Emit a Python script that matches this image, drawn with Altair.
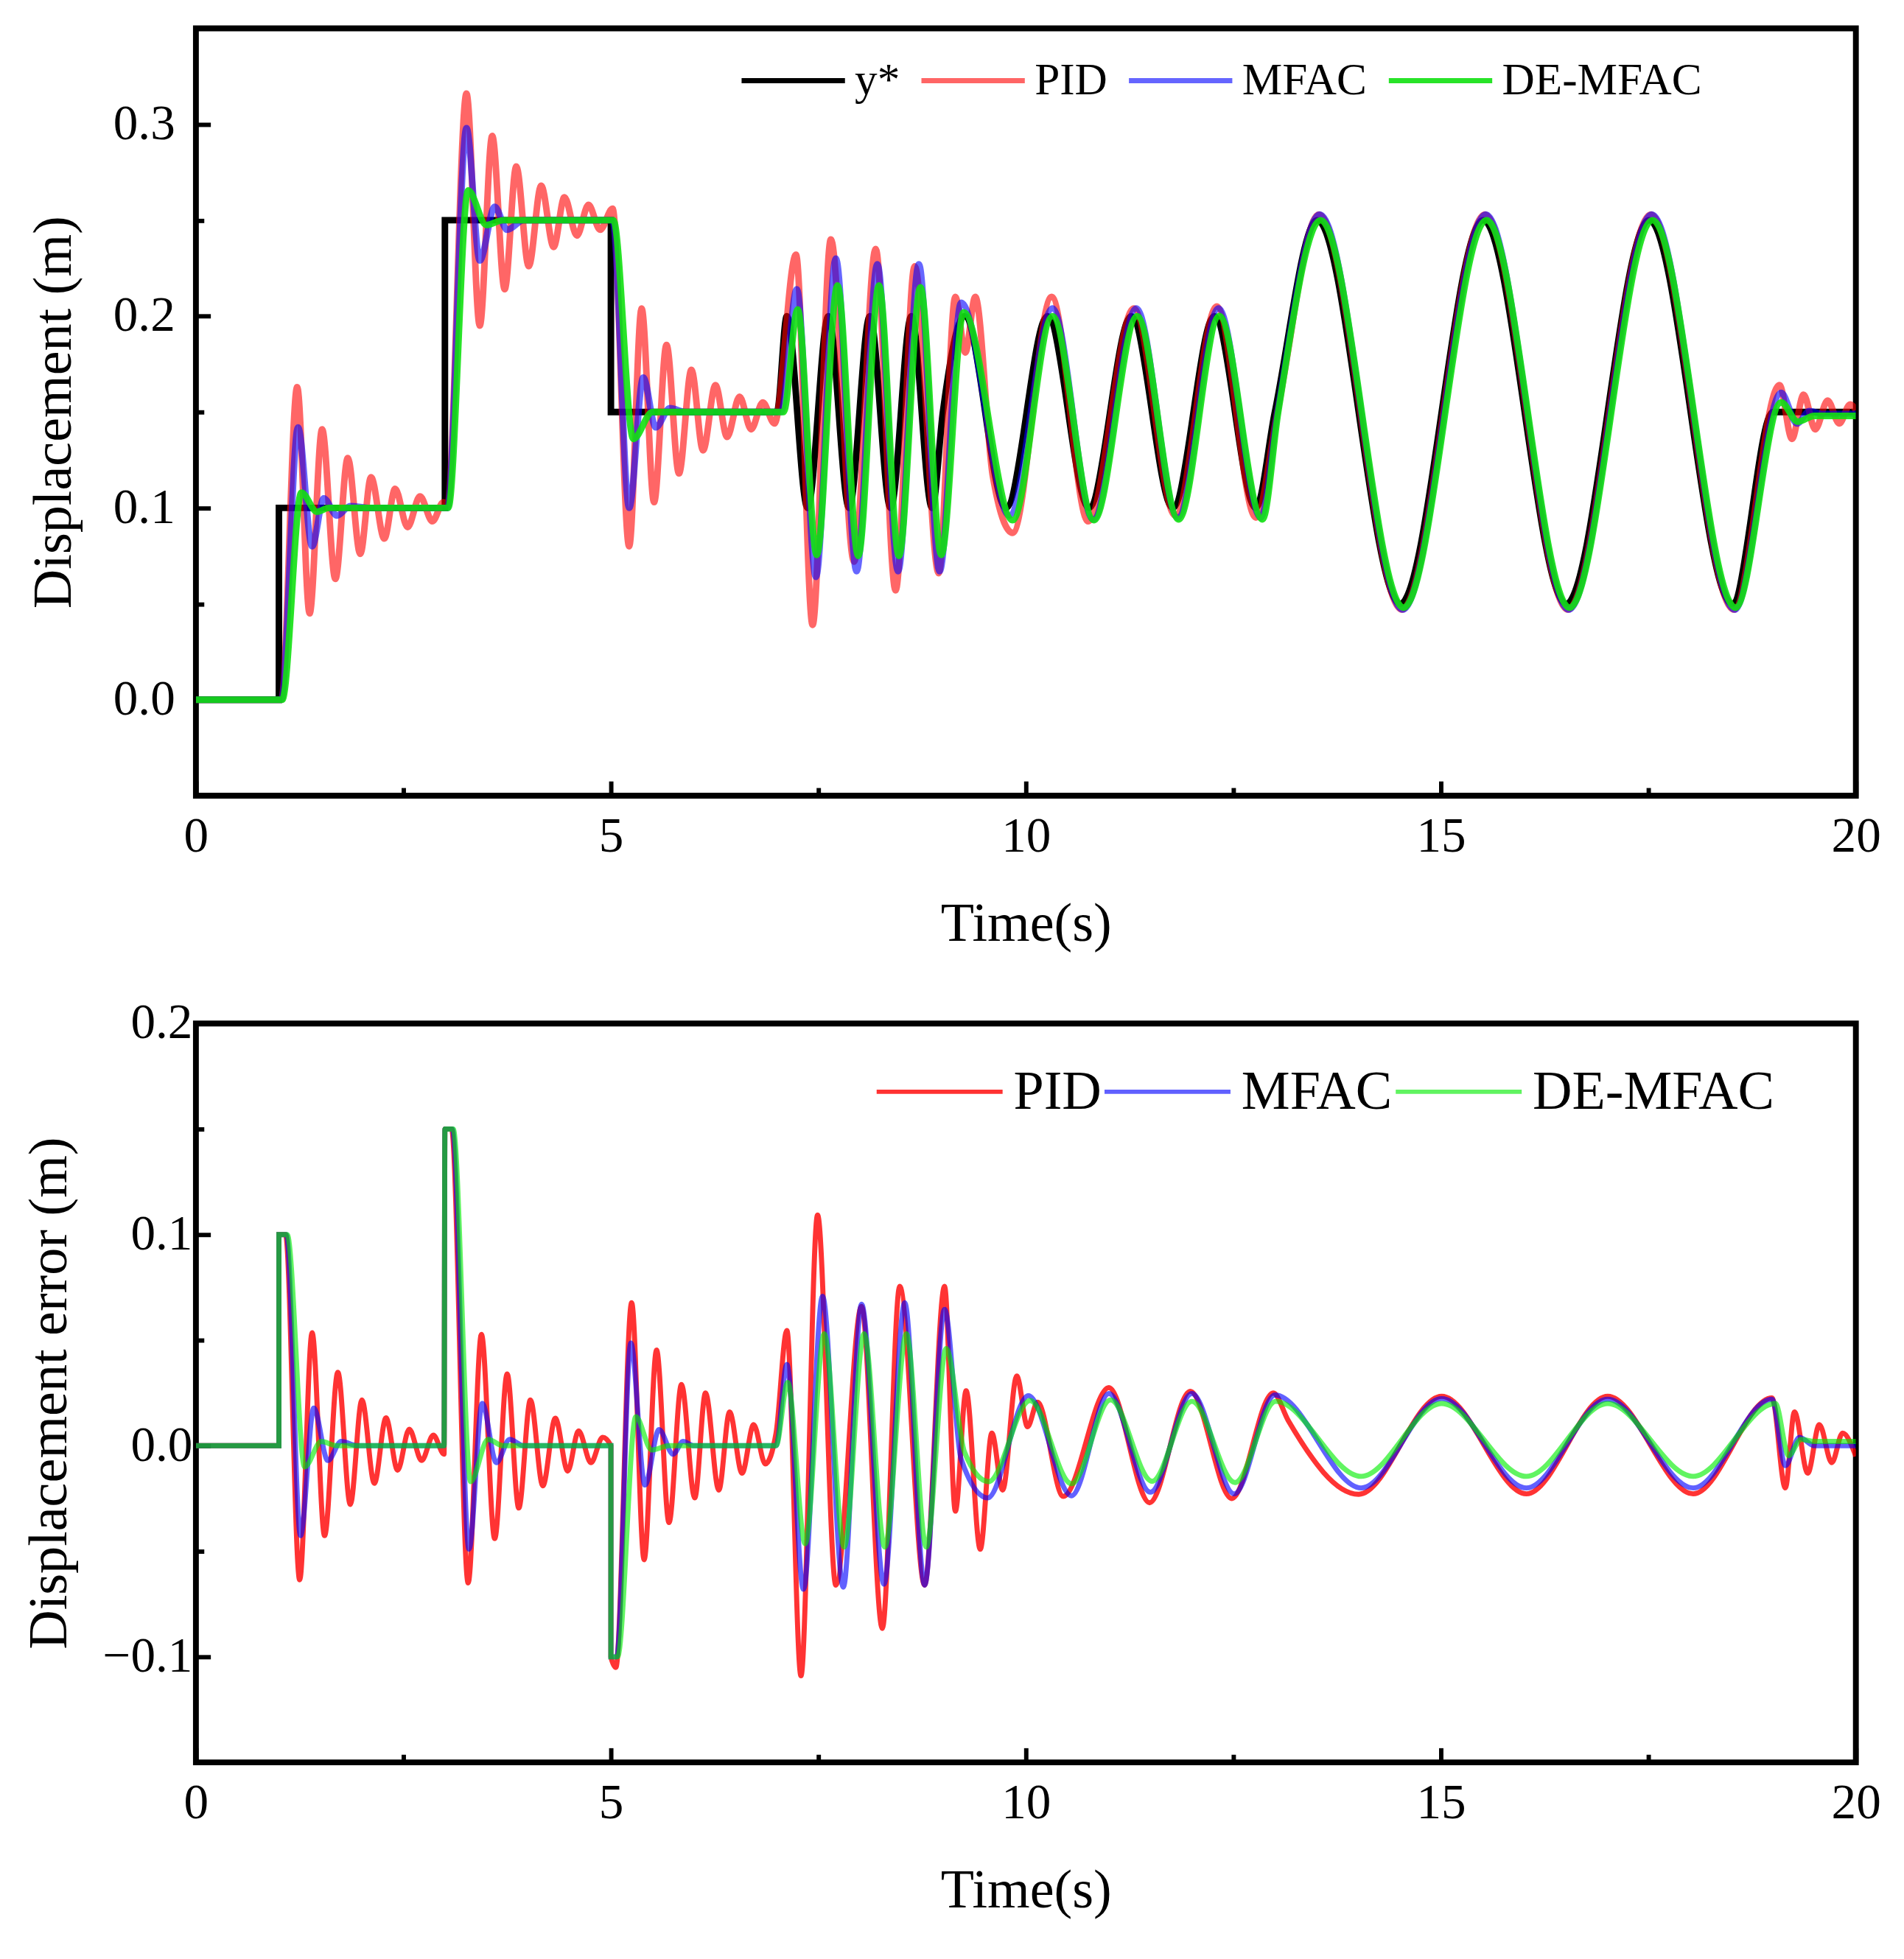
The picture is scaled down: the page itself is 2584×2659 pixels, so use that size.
import altair as alt
import pandas as pd

FONT = "Liberation Serif"

# ---- top panel: displacement (m) ----
REF_T = [0, 1, 1, 3, 3, 5, 5, 7, 7.12, 7.37, 7.62, 7.87, 8.12, 8.37, 8.62, 8.87,
         9.0, 9.26, 9.76, 10.26, 10.76, 11.27, 11.77, 12.27, 12.77, 13.0,
         13.51, 14.51, 15.51, 16.51, 17.51, 18.51, 19.0, 20]
REF_Y = [0, 0, 0.1, 0.1, 0.25, 0.25, 0.15, 0.15, 0.2, 0.1, 0.2, 0.1, 0.2, 0.1, 0.2, 0.1,
         0.15, 0.2, 0.1, 0.2, 0.1, 0.2, 0.1, 0.2, 0.1, 0.15,
         0.25, 0.05, 0.25, 0.05, 0.25, 0.05, 0.15, 0.15]

PID_T = [0, 1.03, 1.22, 1.37, 1.52, 1.68, 1.83, 1.98, 2.11, 2.27, 2.40, 2.55, 2.70, 2.85, 2.98, 3.03,
         3.26, 3.42, 3.57, 3.72, 3.86, 4.01, 4.16, 4.31, 4.44, 4.59, 4.73, 4.87, 5.02,
         5.22, 5.37, 5.52, 5.67, 5.82, 5.97, 6.11, 6.26, 6.40, 6.55, 6.69, 6.83, 6.97,
         7.23, 7.43, 7.65, 7.93, 8.19, 8.43, 8.66, 8.95,
         9.15, 9.27, 9.39, 9.60, 9.84, 10.31, 10.75, 11.30, 11.80, 12.30, 12.77, 13.03,
         13.53, 14.53, 15.53, 16.53, 17.53, 18.53,
         19.08, 19.23, 19.37, 19.51, 19.66, 19.80, 19.93, 20.0]
PID_Y = [0, 0, 0.163, 0.045, 0.141, 0.063, 0.126, 0.076, 0.116, 0.084, 0.110, 0.090, 0.106, 0.093, 0.103, 0.101,
         0.316, 0.195, 0.294, 0.214, 0.278, 0.226, 0.268, 0.236, 0.262, 0.242, 0.258, 0.245, 0.256,
         0.080, 0.204, 0.103, 0.185, 0.118, 0.172, 0.130, 0.164, 0.137, 0.158, 0.141, 0.155, 0.144,
         0.232, 0.039, 0.240, 0.072, 0.235, 0.057, 0.226, 0.066,
         0.210, 0.181, 0.210, 0.117, 0.087, 0.210, 0.093, 0.204, 0.096, 0.205, 0.095, 0.15,
         0.253, 0.047, 0.253, 0.047, 0.253, 0.047,
         0.164, 0.136, 0.159, 0.141, 0.156, 0.144, 0.154, 0.151]

MFAC_T = [0, 1.03, 1.23, 1.40, 1.54, 1.70, 1.86, 2.1, 3.03,
          3.26, 3.42, 3.60, 3.75, 3.95, 5.02,
          5.22, 5.39, 5.54, 5.71, 5.9, 7.05,
          7.24, 7.47, 7.71, 7.96, 8.21, 8.46, 8.71, 8.96,
          9.22, 9.80, 10.32, 10.81, 11.33, 11.83, 12.32, 12.83, 13.03,
          13.54, 14.54, 15.54, 16.54, 17.54, 18.54,
          19.10, 19.29, 19.44, 19.6, 20.0]
MFAC_Y = [0, 0, 0.142, 0.080, 0.105, 0.096, 0.101, 0.1, 0.1,
          0.298, 0.229, 0.257, 0.245, 0.25, 0.25,
          0.100, 0.168, 0.142, 0.152, 0.15, 0.15,
          0.214, 0.064, 0.230, 0.067, 0.227, 0.067, 0.227, 0.067,
          0.207, 0.096, 0.204, 0.094, 0.204, 0.095, 0.204, 0.095, 0.15,
          0.253, 0.047, 0.253, 0.047, 0.253, 0.047,
          0.160, 0.144, 0.1505, 0.149, 0.149]

DE_T = [0, 1.04, 1.27, 1.46, 1.6, 3.04,
        3.28, 3.50, 3.7, 5.03,
        5.27, 5.5, 7.08,
        7.25, 7.48, 7.73, 7.98, 8.23, 8.47, 8.73, 8.98,
        9.25, 9.84, 10.32, 10.82, 11.34, 11.84, 12.33, 12.85, 13.04,
        13.55, 14.55, 15.55, 16.55, 17.55, 18.55,
        19.10, 19.30, 19.5, 20.0]
DE_Y = [0, 0, 0.108, 0.098, 0.1, 0.1,
        0.2655, 0.2475, 0.25, 0.25,
        0.136, 0.15, 0.15,
        0.2035, 0.0755, 0.216, 0.075, 0.216, 0.075, 0.215, 0.0755,
        0.202, 0.0936, 0.2, 0.0936, 0.2, 0.094, 0.2, 0.094, 0.15,
        0.25, 0.048, 0.25, 0.048, 0.25, 0.048,
        0.155, 0.145, 0.148, 0.148]

# ---- bottom panel: displacement error (m) ----
EPID_T = [0, 1.0, 1.0, 1.08,
          1.25, 1.40, 1.55, 1.71, 1.86, 2.00, 2.15, 2.29, 2.43, 2.57, 2.72, 2.86, 2.99,
          3.0, 3.08,
          3.28, 3.44, 3.60, 3.75, 3.89, 4.03, 4.18, 4.33, 4.48, 4.61, 4.76, 4.90, 5.0,
          5.0, 5.06,
          5.25, 5.40, 5.55, 5.70, 5.85, 6.01, 6.14, 6.30, 6.43, 6.58, 6.72, 6.86, 6.99,
          7.12, 7.29, 7.49, 7.71, 8.02, 8.27, 8.48, 8.78, 9.02,
          9.15, 9.28, 9.45, 9.59, 9.72, 9.89, 10.02, 10.14,
          10.45, 11.0, 11.49, 11.98, 12.48, 12.98, 13.16,
          14.01, 15.01, 16.03, 17.01, 18.04, 18.99,
          19.15, 19.26, 19.42, 19.56, 19.71, 19.84, 20.0]
EPID_Y = [0, 0, 0.1, 0.1,
          -0.0635, 0.0535, -0.0426, 0.0348, -0.0278, 0.0217, -0.0178, 0.0132, -0.0116, 0.0078, -0.007, 0.005, -0.004,
          0.15, 0.15,
          -0.065, 0.0527, -0.044, 0.034, -0.0295, 0.0217, -0.019, 0.013, -0.012, 0.007, -0.008, 0.004, 0.0,
          -0.1, -0.105,
          0.0677, -0.054, 0.0453, -0.0364, 0.029, -0.0247, 0.025, -0.021, 0.016, -0.013, 0.01, -0.0086, 0.006,
          0.0546, -0.109, 0.1093, -0.066, 0.066, -0.0865, 0.0755, -0.066, 0.0755,
          -0.031, 0.026, -0.049, 0.006, -0.021, 0.033, 0.009, 0.0206,
          -0.024, 0.0275, -0.027, 0.0258, -0.025, 0.025, 0.012,
          -0.023, 0.0234, -0.0228, 0.0234, -0.0228, 0.0226,
          -0.02, 0.016, -0.013, 0.010, -0.008, 0.006, -0.005]

EMFAC_T = [0, 1.0, 1.0, 1.09,
           1.26, 1.42, 1.59, 1.75, 1.95, 2.99, 3.0, 3.09,
           3.29, 3.45, 3.62, 3.78, 3.95, 5.0, 5.0, 5.07,
           5.24, 5.41, 5.58, 5.75, 5.87, 6.0, 6.99,
           7.12, 7.32, 7.55, 7.80, 8.02, 8.29, 8.54, 8.78, 9.02,
           9.22, 9.54, 10.03, 10.55, 11.0, 11.5, 12.0, 12.51, 13.0,
           14.04, 15.01, 16.03, 17.01, 18.04, 18.99,
           19.15, 19.32, 19.5, 20.0]
EMFAC_Y = [0, 0, 0.1, 0.1,
           -0.0426, 0.0178, -0.007, 0.002, 0.0, 0.0, 0.15, 0.15,
           -0.049, 0.020, -0.008, 0.003, 0.0, 0.0, -0.1, -0.1,
           0.0486, -0.0186, 0.0076, -0.004, 0.002, 0.0, 0.0,
           0.0385, -0.068, 0.0708, -0.067, 0.067, -0.0656, 0.0677, -0.066, 0.0646,
           -0.0064, -0.0247, 0.0237, -0.0237, 0.0247, -0.022, 0.0247, -0.0228, 0.024,
           -0.020, 0.0223, -0.020, 0.022, -0.020, 0.022,
           -0.0094, 0.004, 0.0, 0.0]

EDE_T = [0, 1.0, 1.0, 1.1,
         1.31, 1.51, 1.7, 2.99, 3.0, 3.1,
         3.31, 3.52, 3.7, 5.0, 5.0, 5.08,
         5.30, 5.49, 5.7, 6.99,
         7.13, 7.34, 7.57, 7.81, 8.05, 8.30, 8.56, 8.80, 9.04,
         9.26, 9.55, 10.05, 10.55, 11.02, 11.52, 12.0, 12.52, 13.01,
         14.04, 15.01, 16.03, 17.01, 18.04, 19.03,
         19.19, 19.34, 19.5, 20.0]
EDE_Y = [0, 0, 0.1, 0.1,
         -0.010, 0.002, 0.0, 0.0, 0.15, 0.15,
         -0.017, 0.003, 0.0, 0.0, -0.1, -0.1,
         0.0137, -0.002, 0.0, 0.0,
         0.030, -0.0464, 0.053, -0.048, 0.053, -0.048, 0.053, -0.048, 0.046,
         -0.003, -0.017, 0.0214, -0.018, 0.0217, -0.0168, 0.021, -0.0174, 0.021,
         -0.0145, 0.020, -0.0145, 0.020, -0.0145, 0.020,
         -0.0047, 0.003, 0.002, 0.002]

TOP_NAMES = ["y*", "PID", "MFAC", "DE-MFAC"]
TOP_COLORS = ["#000000", "#ff0000", "#0000ff", "#11e011"]
TOP_OPACITY = [1.0, 0.6, 0.6, 0.9]

BOT_NAMES = ["PID", "MFAC", "DE-MFAC"]
BOT_COLORS = ["#ff0000", "#0000ff", "#00ee00"]
BOT_OPACITY = [0.8, 0.62, 0.62]

X_MAJOR = [0, 5, 10, 15, 20]
X_MINOR = [2.5, 7.5, 12.5, 17.5]


def to_frame(series):
    rows = []
    for name, ts, ys in series:
        for t, v in zip(ts, ys, strict=True):
            rows.append({"series": name, "t": t, "v": v})
    return pd.DataFrame(rows)


def tick_layer(df, y_scale, x_vals, y_vals, size):
    # inward ticks: an extra axis pulled into the plot by its own length
    return alt.Chart(df).mark_line(strokeOpacity=0).encode(
        x=alt.X("t:Q", scale=alt.Scale(domain=[0, 20], nice=False),
                axis=alt.Axis(orient="bottom", values=x_vals, tickSize=size, offset=-size,
                              labels=False, domain=False, grid=False), title=None),
        y=alt.Y("v:Q", scale=y_scale,
                axis=alt.Axis(orient="left", values=y_vals, tickSize=size, offset=-size,
                              labels=False, domain=False, grid=False), title=None),
    )


def panel(df, names, colors, opacity, width_px, y_dom, y_major, y_minor, y_title,
          height, legend, label_pad, title_pad):
    y_scale = alt.Scale(domain=y_dom, nice=False, zero=False)
    lines = alt.Chart(df).mark_line(interpolate="monotone", clip=True, strokeWidth=width_px).encode(
        x=alt.X("t:Q", scale=alt.Scale(domain=[0, 20], nice=False),
                axis=alt.Axis(values=X_MAJOR, ticks=False, domain=False, grid=False,
                              labelFlush=False, labelPadding=22, titlePadding=50),
                title="Time(s)"),
        y=alt.Y("v:Q", scale=y_scale,
                axis=alt.Axis(values=y_major, format=".1f", ticks=False, domain=False, grid=False,
                              labelFlush=False, labelPadding=label_pad, titlePadding=title_pad),
                title=y_title),
        color=alt.Color("series:N", scale=alt.Scale(domain=names, range=colors), legend=legend),
        opacity=alt.Opacity("series:N",
                            scale=alt.Scale(type="ordinal", domain=names, range=opacity),
                            legend=legend),
    )
    major = tick_layer(df, y_scale, X_MAJOR, y_major, 20)
    minor = tick_layer(df, y_scale, X_MINOR, y_minor, 11)
    return alt.layer(lines, major, minor).resolve_axis(x="independent", y="independent").properties(
        width=2280, height=height
    )


top_df = to_frame([("y*", REF_T, REF_Y), ("PID", PID_T, PID_Y),
                   ("MFAC", MFAC_T, MFAC_Y), ("DE-MFAC", DE_T, DE_Y)])
bot_df = to_frame([("PID", EPID_T, EPID_Y), ("MFAC", EMFAC_T, EMFAC_Y), ("DE-MFAC", EDE_T, EDE_Y)])

top_legend = alt.Legend(title=None, orient="none", legendX=746, legendY=-3, direction="horizontal",
                        symbolType="stroke", symbolSize=20164, symbolStrokeWidth=7,
                        labelFontSize=62, labelOffset=10, columnPadding=15, labelLimit=1000)
bot_legend = alt.Legend(title=None, orient="none", legendX=932, legendY=4, direction="horizontal",
                        symbolType="stroke", symbolSize=29929, symbolStrokeWidth=6,
                        labelFontSize=75, labelOffset=12, columnPadding=-8, labelLimit=1000)

top = panel(top_df, TOP_NAMES, TOP_COLORS, TOP_OPACITY, 9, [-0.05, 0.35],
            [0, 0.1, 0.2, 0.3], [0.05, 0.15, 0.25], "Displacement (m)", 1054, top_legend, 29, 42)
bottom = panel(bot_df, BOT_NAMES, BOT_COLORS, BOT_OPACITY, 7, [-0.15, 0.2],
               [-0.1, 0, 0.1, 0.2], [-0.05, 0.05, 0.15], "Displacement error (m)", 1015, bot_legend,
               5, 34)

chart = alt.vconcat(top, bottom, spacing=57).resolve_scale(
    color="independent", opacity="independent"
).properties(
    padding={"left": 18, "top": 8, "right": 20, "bottom": 20}
).configure_view(
    stroke="black", strokeWidth=8
).configure_axis(
    labelFont=FONT, titleFont=FONT, labelFontSize=68, titleFontSize=75, titleFontWeight="normal",
    labelColor="black", titleColor="black", tickColor="black", tickWidth=6
).configure_legend(
    labelFont=FONT, labelColor="black"
)

chart.save("out.html", embed_options={"renderer": "svg", "actions": False})
